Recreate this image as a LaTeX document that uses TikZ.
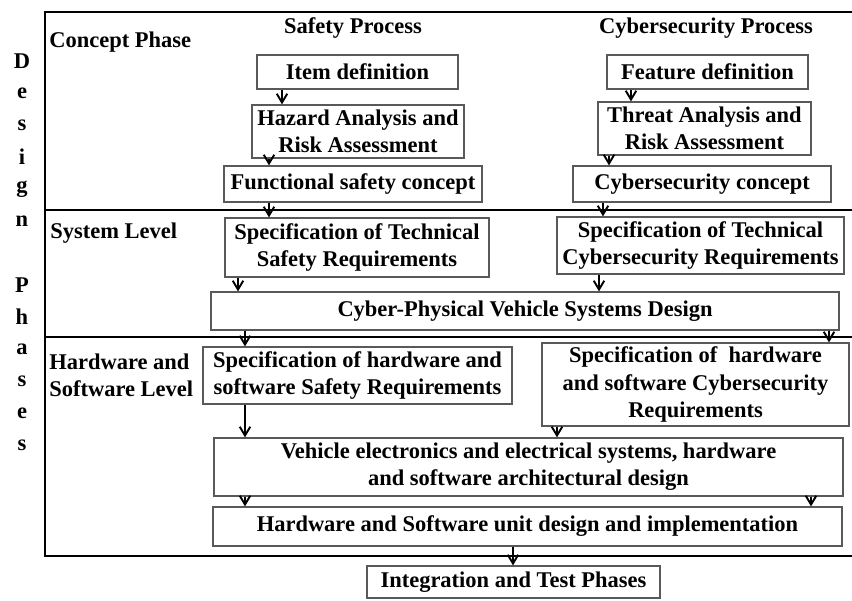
\documentclass[tikz,border=0pt]{standalone}
\usepackage{fontspec}
\setmainfont{Liberation Serif}
\usetikzlibrary{arrows.meta}

\begin{document}
\begin{tikzpicture}[
        x=0.02cm, y=-0.02cm,
        every node/.style={font=\bfseries\fontsize{12.8}{15.4}\selectfont},
        process box/.style={draw=black!65, line width=0.7pt, align=center, inner sep=2pt},
        phase label/.style={anchor=west, align=left, inner sep=0pt},
        flow/.style={-{Straight Barb[length=5pt,width=6pt]}, line width=1.1pt},
        frame line/.style={line width=1.5pt}
    ]
    \useasboundingbox (0,0) rectangle (852,600);

    % Frame and level separators
    \draw[frame line] (853,12) -- (45,12) -- (45,556) -- (853,556);
    \draw[frame line] (45,210) -- (853,210);
    \draw[frame line] (45,337) -- (853,337);

    % Vertical title
    \foreach \l/\k in {D/0,e/1,s/2,i/3,g/4,n/5,P/7,h/8,a/9,s/10,e/11,s/12}
        \node (T-\k) at (22,61+32*\k) {\l};

    % Level labels and column heads
    \node[phase label] (concept-lbl) at (49,42) {Concept Phase};
    \node[phase label] (system-lbl) at (50,233) {System Level};
    \node[phase label] (hwsw-lbl) at (49,375) {Hardware and\\Software Level};
    \node (safety-head) at (353,28) {Safety Process};
    \node (cyber-head) at (706,28) {Cybersecurity Process};

    % Safety process
    \node[process box, minimum width=4.02cm, minimum height=0.68cm] (item) at (357.5,72) {Item definition};
    \node[process box, minimum width=4.24cm, minimum height=1.06cm] (hara) at (358,131.5) {Hazard Analysis and\\Risk Assessment};
    \node[process box, minimum width=5.16cm, minimum height=0.72cm] (fsc) at (353,184) {Functional safety concept};
    \node[process box, minimum width=5.28cm, minimum height=1.18cm] (tsr) at (357,247.5) {Specification of Technical\\Safety Requirements};
    \node[process box, minimum width=6.18cm, minimum height=1.14cm] (hwsw-safety) at (357.5,375.5) {Specification of hardware and\\software Safety Requirements};

    % Cybersecurity process
    \node[process box, minimum width=4.02cm, minimum height=0.68cm] (feature) at (707.5,72) {Feature definition};
    \node[process box, minimum width=4.26cm, minimum height=1.06cm] (tara) at (704.5,128.5) {Threat Analysis and\\Risk Assessment};
    \node[process box, minimum width=5.16cm, minimum height=0.72cm] (csc) at (702,184) {Cybersecurity concept};
    \node[process box, minimum width=5.74cm, minimum height=1.14cm] (tcr) at (700.5,245.5) {Specification of Technical\\Cybersecurity Requirements};
    \node[process box, minimum width=6.14cm, minimum height=1.66cm] (hwsw-cyber) at (695.5,384.5) {Specification of\ \ hardware\\and software Cybersecurity\\Requirements};

    % Shared design steps
    \node[process box, minimum width=12.56cm, minimum height=0.76cm] (cpvs) at (525,311) {Cyber-Physical Vehicle Systems Design};
    \node[process box, minimum width=12.58cm, minimum height=1.16cm] (arch) at (528.5,467) {Vehicle electronics and electrical systems, hardware\\and software architectural design};
    \node[process box, minimum width=12.58cm, minimum height=0.78cm] (unit) at (527.5,526.5) {Hardware and Software unit design and implementation};
    \node[process box, minimum width=5.86cm, minimum height=0.64cm] (integ) at (513.5,582) {Integration and Test Phases};

    % Flow arrows
    \draw[flow] (item.south -| 282,0) -- (hara.north -| 282,0);
    \draw[flow] (hara.south -| 269,0) -- (fsc.north -| 269,0);
    \draw[flow] (fsc.south -| 269,0) -- (tsr.north -| 269,0);
    \draw[flow] (feature.south -| 631,0) -- (tara.north -| 631,0);
    \draw[flow] (tara.south -| 609,0) -- (csc.north -| 609,0);
    \draw[flow] (csc.south -| 603,0) -- (tcr.north -| 603,0);
    \draw[flow] (tsr.south -| 238,0) -- (cpvs.north -| 238,0);
    \draw[flow] (tcr.south -| 599,0) -- (cpvs.north -| 599,0);
    \draw[flow] (cpvs.south -| 245,0) -- (hwsw-safety.north -| 245,0);
    \draw[flow] (cpvs.south -| 829,0) -- (hwsw-cyber.north -| 829,0);
    \draw[flow] (hwsw-safety.south -| 245,0) -- (arch.north -| 245,0);
    \draw[flow] (hwsw-cyber.south -| 557,0) -- (arch.north -| 557,0);
    \draw[flow] (arch.south -| 245,0) -- (unit.north -| 245,0);
    \draw[flow] (arch.south -| 811,0) -- (unit.north -| 811,0);
    \draw[flow] (unit.south -| 513,0) -- (integ.north -| 513,0);

\end{tikzpicture}
\end{document}
